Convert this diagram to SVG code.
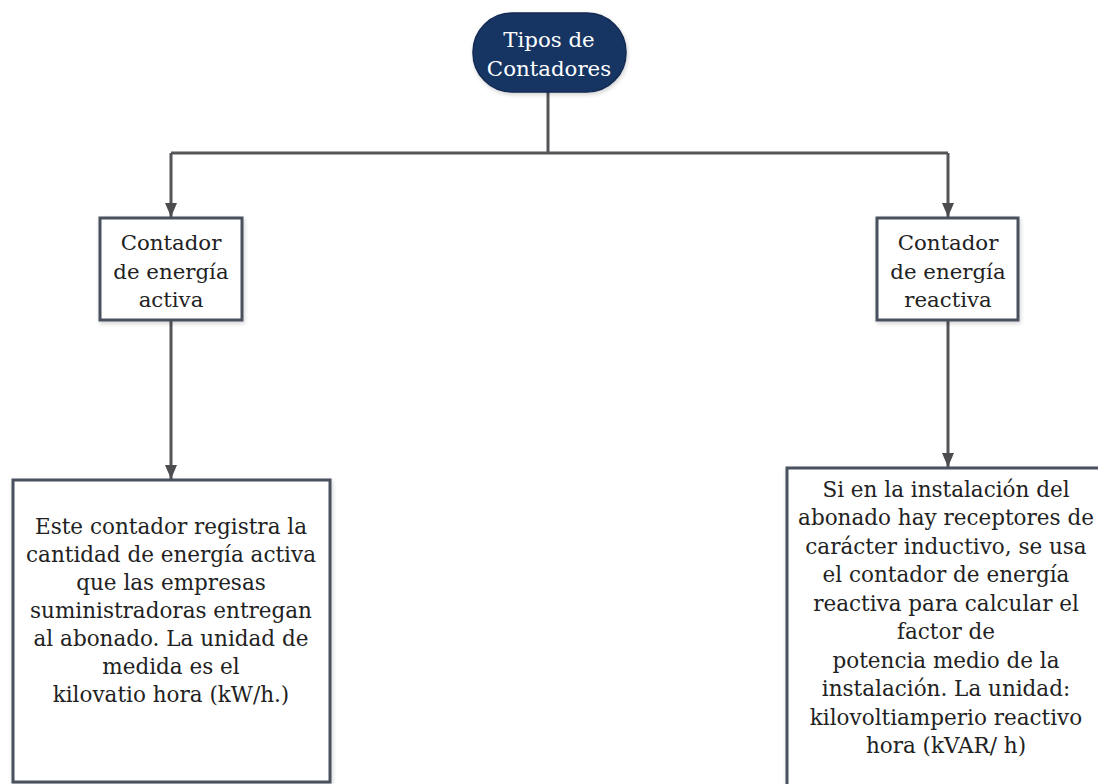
<svg xmlns="http://www.w3.org/2000/svg" width="1098" height="784" viewBox="0 0 1098 784">
  <defs>
    <marker id="arrow" viewBox="0 0 14 12" refX="14" refY="6" markerWidth="14" markerHeight="12" markerUnits="userSpaceOnUse" orient="auto">
      <path d="M0,0 L14,6 L0,12 Z" fill="#4d4d4f"/>
    </marker>
    <filter id="shadow" x="-10%" y="-10%" width="120%" height="120%">
      <feDropShadow dx="1" dy="2" stdDeviation="2" flood-color="#000" flood-opacity="0.18"/>
    </filter>
  </defs>
  <style>
    .box { fill: #ffffff; stroke: #4a515e; stroke-width: 3; filter: url(#shadow); }
    .root { fill: #173463; stroke: #122a52; stroke-width: 1.5; filter: url(#shadow); }
    .wire { fill: none; stroke: #555558; stroke-width: 3; }
    text { font-family: "DejaVu Serif", "Liberation Serif", serif; text-anchor: middle; fill: #222222; }
    .t-root { fill: #ffffff; font-size: 21.3px; }
    .t-mid { font-size: 21.3px; }
    .t-body { font-size: 21.5px; }
  </style>
  <rect width="1098" height="784" fill="#ffffff"/>

  <!-- connectors -->
  <g id="connectors">
    <path class="wire" d="M548,92 V153"/>
    <path class="wire" d="M171,153 H948"/>
    <path class="wire" d="M171,153 V217" marker-end="url(#arrow)"/>
    <path class="wire" d="M948,153 V217" marker-end="url(#arrow)"/>
    <path class="wire" d="M171,320 V479" marker-end="url(#arrow)"/>
    <path class="wire" d="M948,320 V467" marker-end="url(#arrow)"/>
  </g>

  <!-- root node -->
  <g id="node-root">
    <rect class="root" x="473" y="13" width="153" height="79" rx="39" ry="39"/>
    <text class="t-root" x="549" y="47">Tipos de</text>
    <text class="t-root" x="549" y="76">Contadores</text>
  </g>

  <!-- active energy meter -->
  <g id="node-activa">
    <rect class="box" x="100" y="218" width="142" height="102"/>
    <text class="t-mid" x="171" y="250">Contador</text>
    <text class="t-mid" x="171" y="279">de energía</text>
    <text class="t-mid" x="171" y="307">activa</text>
  </g>

  <!-- reactive energy meter -->
  <g id="node-reactiva">
    <rect class="box" x="877" y="218" width="141" height="102"/>
    <text class="t-mid" x="948" y="250">Contador</text>
    <text class="t-mid" x="948" y="279">de energía</text>
    <text class="t-mid" x="948" y="307">reactiva</text>
  </g>

  <!-- description of the active meter -->
  <g id="node-activa-desc">
    <rect class="box" x="13" y="480" width="317" height="302"/>
    <text class="t-body" x="171" y="534">Este contador registra la</text>
    <text class="t-body" x="171" y="562">cantidad de energía activa</text>
    <text class="t-body" x="171" y="590">que las empresas</text>
    <text class="t-body" x="171" y="618">suministradoras entregan</text>
    <text class="t-body" x="171" y="646">al abonado. La unidad de</text>
    <text class="t-body" x="171" y="674">medida es el</text>
    <text class="t-body" x="171" y="702">kilovatio hora (kW/h.)</text>
  </g>

  <!-- description of the reactive meter -->
  <g id="node-reactiva-desc">
    <rect class="box" x="787" y="468" width="320" height="330"/>
    <text class="t-body" x="946" y="497">Si en la instalación del</text>
    <text class="t-body" x="946" y="525">abonado hay receptores de</text>
    <text class="t-body" x="946" y="554">carácter inductivo, se usa</text>
    <text class="t-body" x="946" y="582">el contador de energía</text>
    <text class="t-body" x="946" y="611">reactiva para calcular el</text>
    <text class="t-body" x="946" y="639">factor de</text>
    <text class="t-body" x="946" y="668">potencia medio de la</text>
    <text class="t-body" x="946" y="696">instalación. La unidad:</text>
    <text class="t-body" x="946" y="725">kilovoltiamperio reactivo</text>
    <text class="t-body" x="946" y="753">hora (kVAR/ h)</text>
  </g>
</svg>
